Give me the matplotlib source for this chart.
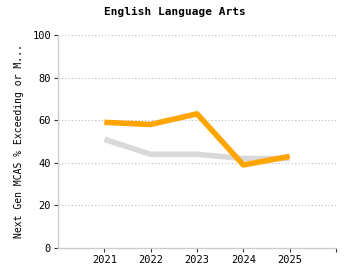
import matplotlib
matplotlib.use("Agg")
from matplotlib import pyplot as plt

years = [2021, 2022, 2023, 2024, 2025]
school = [59, 58, 63, 39, 43]
state = [51, 44, 44, 42, 42]

plt.rcParams['font.family'] = 'DejaVu Sans Mono'

fig = plt.figure(figsize=(3.5, 2.8), dpi=100)
ax = fig.add_axes([58 / 350, 32 / 280, 278 / 350, 213 / 280])

ax.plot(years, state, color='#d9d9d9', linewidth=4, solid_capstyle='butt', zorder=2)
ax.plot(years, school, color='#ffa500', linewidth=4, solid_capstyle='butt', zorder=3)

ax.set_xlim(2020, 2026)
ax.set_ylim(0, 100)
ax.set_xticks(years + [2026])
ax.set_xticklabels([str(y) for y in years] + [''])
ax.set_yticks([0, 20, 40, 60, 80, 100])

for y in [20, 40, 60, 80, 100]:
    ax.axhline(y, color='#bbbbbb', linewidth=0.8, linestyle=(0, (1, 2)), zorder=1)

for side in ['top', 'right']:
    ax.spines[side].set_visible(False)
for side in ['left', 'bottom']:
    ax.spines[side].set_color('#cccccc')
    ax.spines[side].set_linewidth(1)

ax.tick_params(axis='both', labelsize=7.5, length=3, width=0.8, color='#333333', pad=2)
ax.set_ylabel('Next Gen MCAS % Exceeding or M...', fontsize=7, labelpad=6)
fig.suptitle('English Language Arts', x=0.5, y=1 - 12 / 280, va='center',
             fontsize=8, fontweight='bold')

fig.savefig('out.png', dpi=100)
